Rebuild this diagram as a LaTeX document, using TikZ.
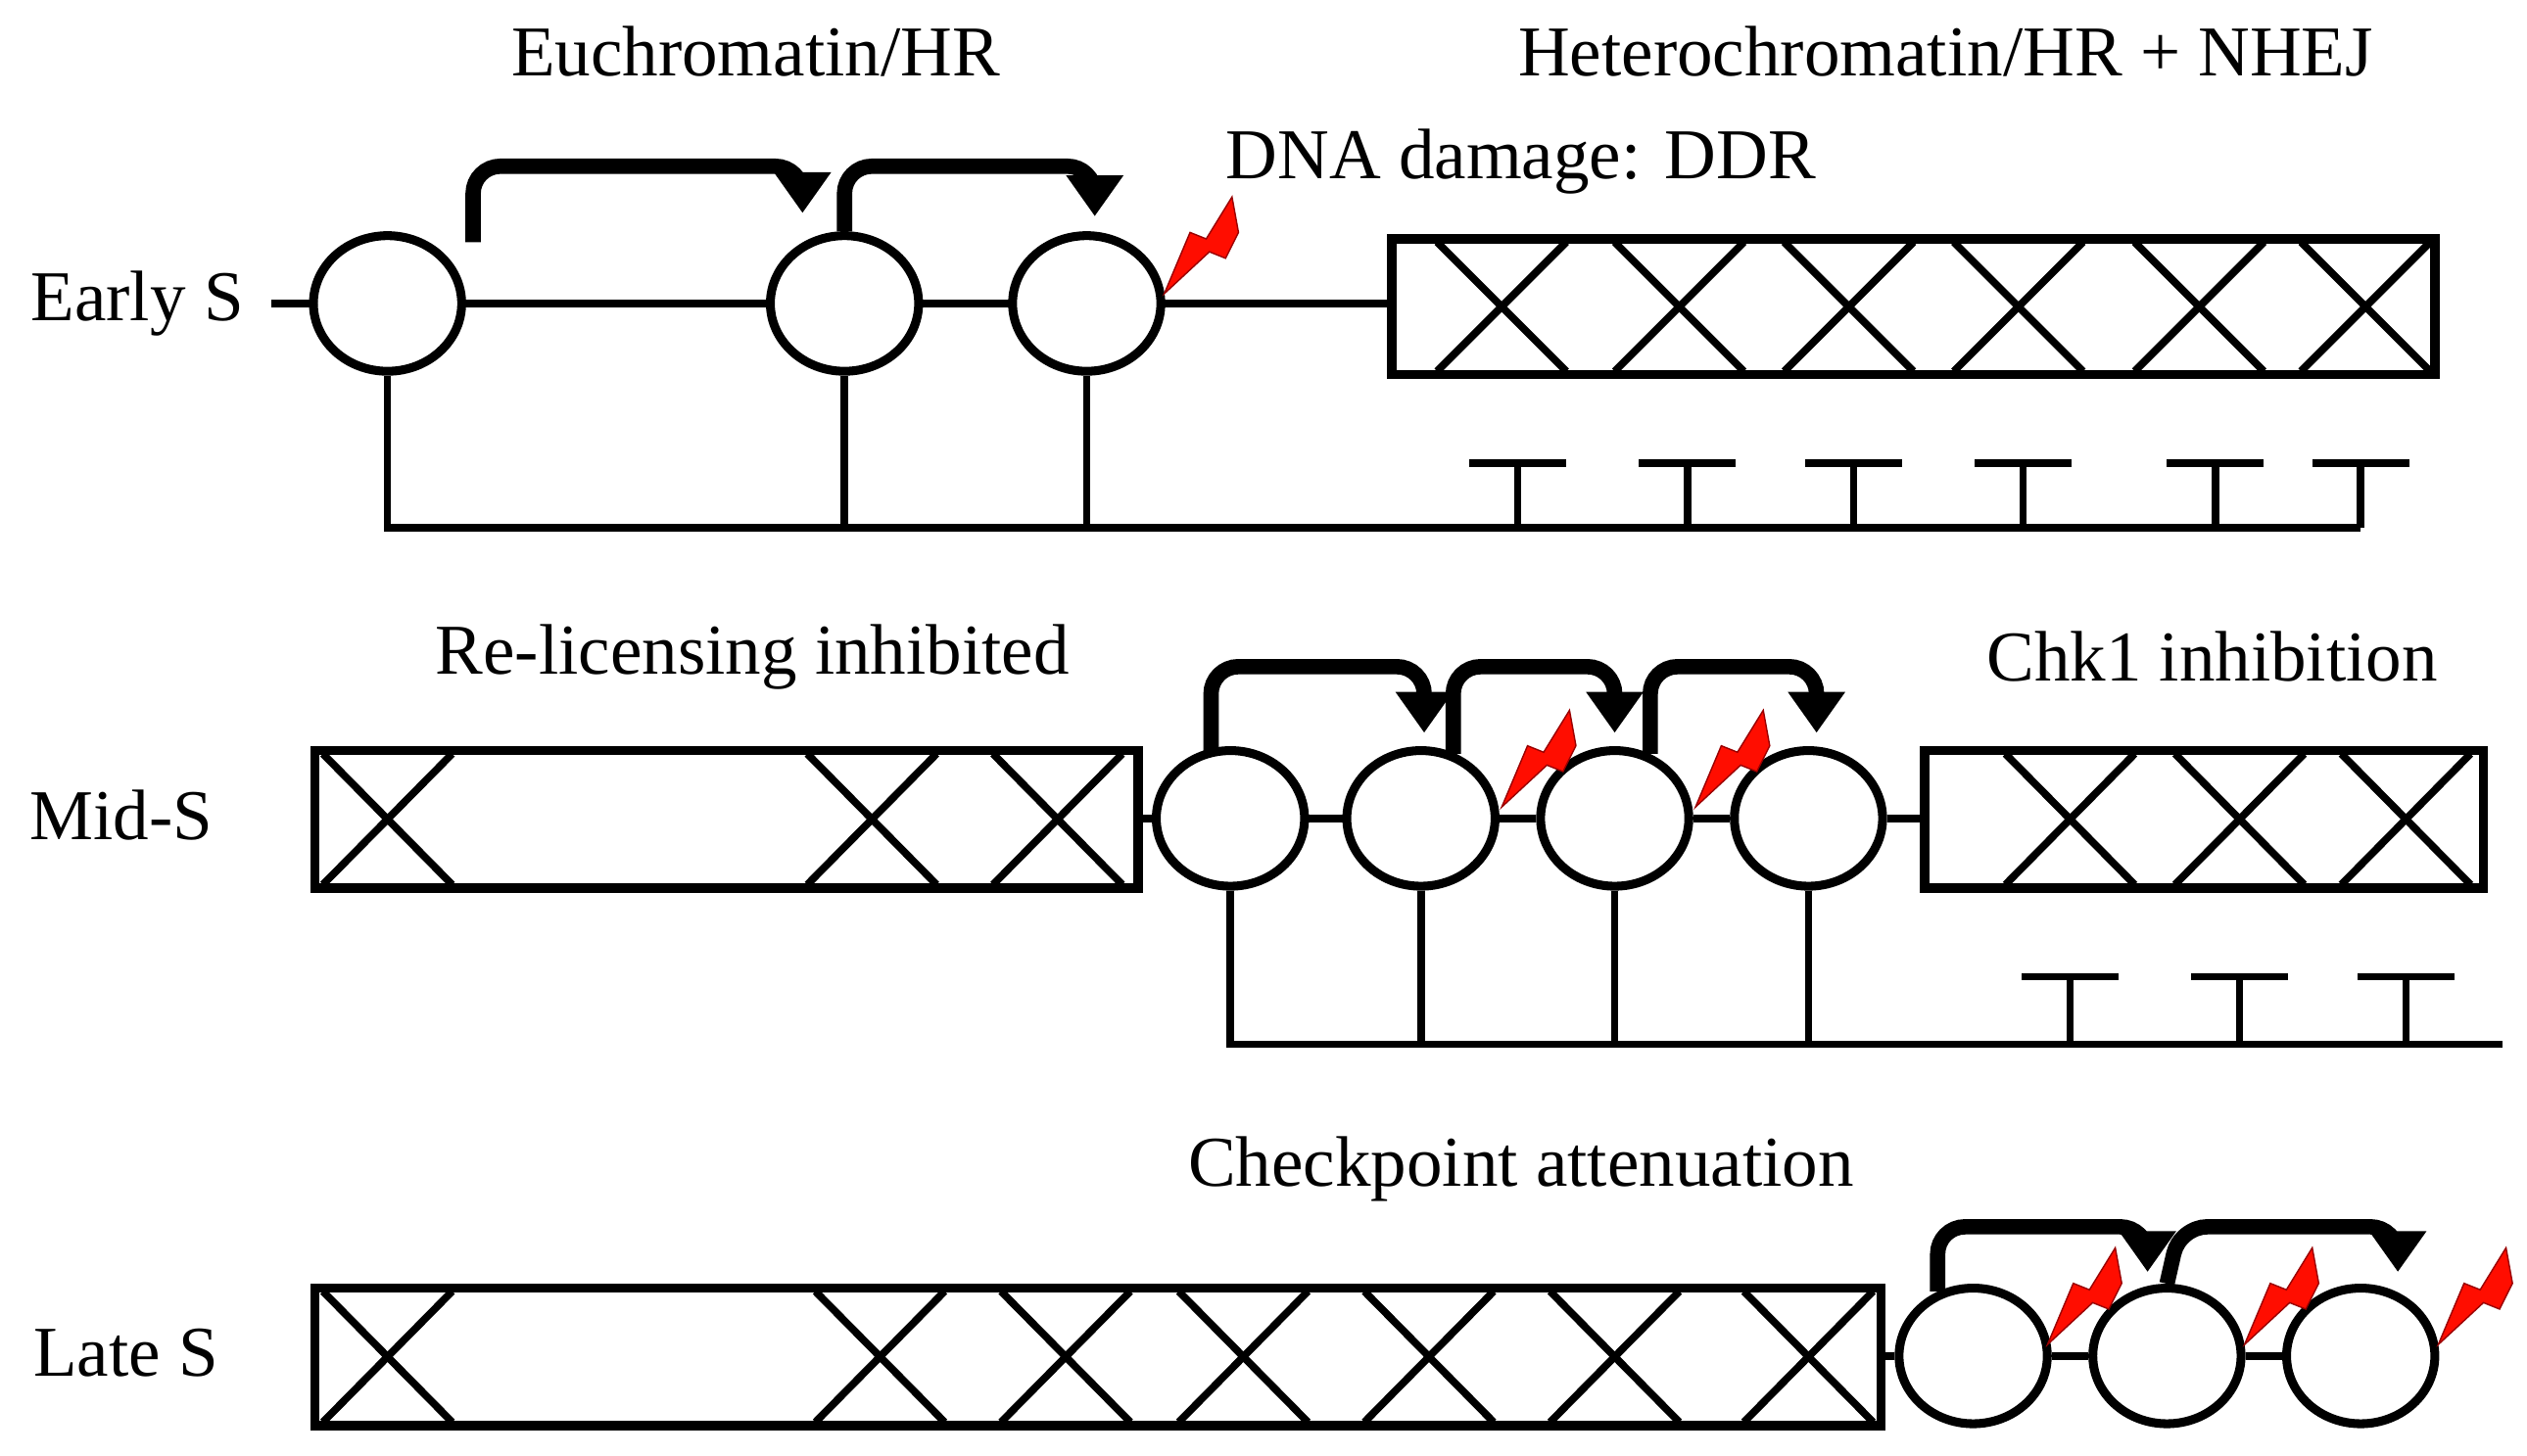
\documentclass[tikz,border=0pt]{standalone}
\usepackage{fontspec}
\setmainfont{Liberation Serif}
\usetikzlibrary{arrows.meta,shapes.geometric}
\begin{document}
\begin{tikzpicture}[x=0.016667cm,y=-0.016667cm,
  ln/.style={line width=2.2pt},
  orc/.style={draw,ellipse,line width=2.6pt,minimum width=1.53cm,minimum height=1.4cm,inner sep=0pt,fill=white},
  box/.style={draw,line width=2.8pt},
  big/.style={line width=4.5pt,rounded corners=8pt,-{Triangle[length=12pt,width=16pt]}},
  lbl/.style={font=\fontsize{21}{24}\selectfont},
  bolt/.pic={\fill[red!90!orange,draw=red!60!black,line width=0.4pt] (0,0)--(16,-38)--(26,-34)--(42,-60)--(46,-38)--(38,-22)--(28,-26)--cycle;}
]
\useasboundingbox (0,0) rectangle (1565,902);
\newcommand{\xcross}[3]{\draw[ln] (#1-40,#2)--(#1+40,#3) (#1-40,#3)--(#1+40,#2);}
\newcommand{\tee}[3]{\draw[ln] (#1,#2)--(#1,#3) (#1-30,#3)--(#1+30,#3);}
% labels
\node[lbl] (t1) at (468,32) {Euchromatin/HR};
\node[lbl] (t2) at (1205,32) {Heterochromatin/HR + NHEJ};
\node[lbl] (t3) at (942,100) {DNA damage: DDR};
\node[lbl] (r1) at (85,188) {Early S};
\node[lbl] (t4) at (466,407) {Re-licensing inhibited};
\node[lbl] (t5) at (1370,407) {Chk1 inhibition};
\node[lbl] (r2) at (75,505) {Mid-S};
\node[lbl] (t6) at (942,724) {Checkpoint attenuation};
\node[lbl] (r3) at (78,838) {Late S};
% ---- Row 1
\coordinate (s1) at (168,188);
\draw[ln] (s1)--(862,188);
\draw[box] (862,148) rectangle (1508,232);
\foreach \x in {930,1040,1145,1250,1362,1465}{\xcross{\x}{150}{230}}
\node[orc] (a1) at (240,188) {};
\node[orc] (a2) at (523,188) {};
\node[orc] (a3) at (673,188) {};
\draw[ln] (a1.south)--(240,327)--(1462,327);
\draw[ln] (a2.south)--(523,327);
\draw[ln] (a3.south)--(673,327);
\foreach \x in {940,1045,1148,1253,1372,1462}{\tee{\x}{327}{287}}
\draw[big] (293,150)--(293,103)--(497,103)--(497,132);
\draw[big] (a2.north)--(523,103)--(678,103)--(678,134);
\pic at (721,182) {bolt};
% ---- Row 2
\draw[box] (195,465) rectangle (705,550);
\foreach \x in {240,540,655}{\xcross{\x}{467}{548}}
\node[orc] (b1) at (762,507) {};
\node[orc] (b2) at (880,507) {};
\node[orc] (b3) at (1000,507) {};
\node[orc] (b4) at (1120,507) {};
\draw[box] (1192,465) rectangle (1538,550);
\foreach \x in {1282,1387,1490}{\xcross{\x}{467}{548}}
\draw[ln] (705,507)--(b1)--(b2)--(b3)--(b4)--(1192,507);
\draw[ln] (b1.south)--(762,647)--(1550,647);
\draw[ln] (b2.south)--(880,647);
\draw[ln] (b3.south)--(1000,647);
\draw[ln] (b4.south)--(1120,647);
\foreach \x in {1282,1387,1490}{\tee{\x}{647}{605}}
\draw[big] (750,467)--(750,413)--(882,413)--(882,454);
\draw[big] (900,467)--(900,413)--(1000,413)--(1000,454);
\draw[big] (1022,467)--(1022,413)--(1125,413)--(1125,454);
\pic at (930,500) {bolt};
\pic at (1050,500) {bolt};
% ---- Row 3
\draw[box] (195,798) rectangle (1165,883);
\foreach \x in {240,545,660,770,885,1000,1120}{\xcross{\x}{800}{881}}
\node[orc] (c1) at (1222,840) {};
\node[orc] (c2) at (1342,840) {};
\node[orc] (c3) at (1462,840) {};
\draw[ln] (1165,840)--(c1)--(c2)--(c3);
\draw[big] (1200,800)--(1200,760)--(1330,760)--(1330,788);
\draw[big] (c2.north)--(1350,760)--(1485,760)--(1485,788);
\pic at (1268,833) {bolt};
\pic at (1390,833) {bolt};
\pic at (1510,833) {bolt};
\end{tikzpicture}
\end{document}
